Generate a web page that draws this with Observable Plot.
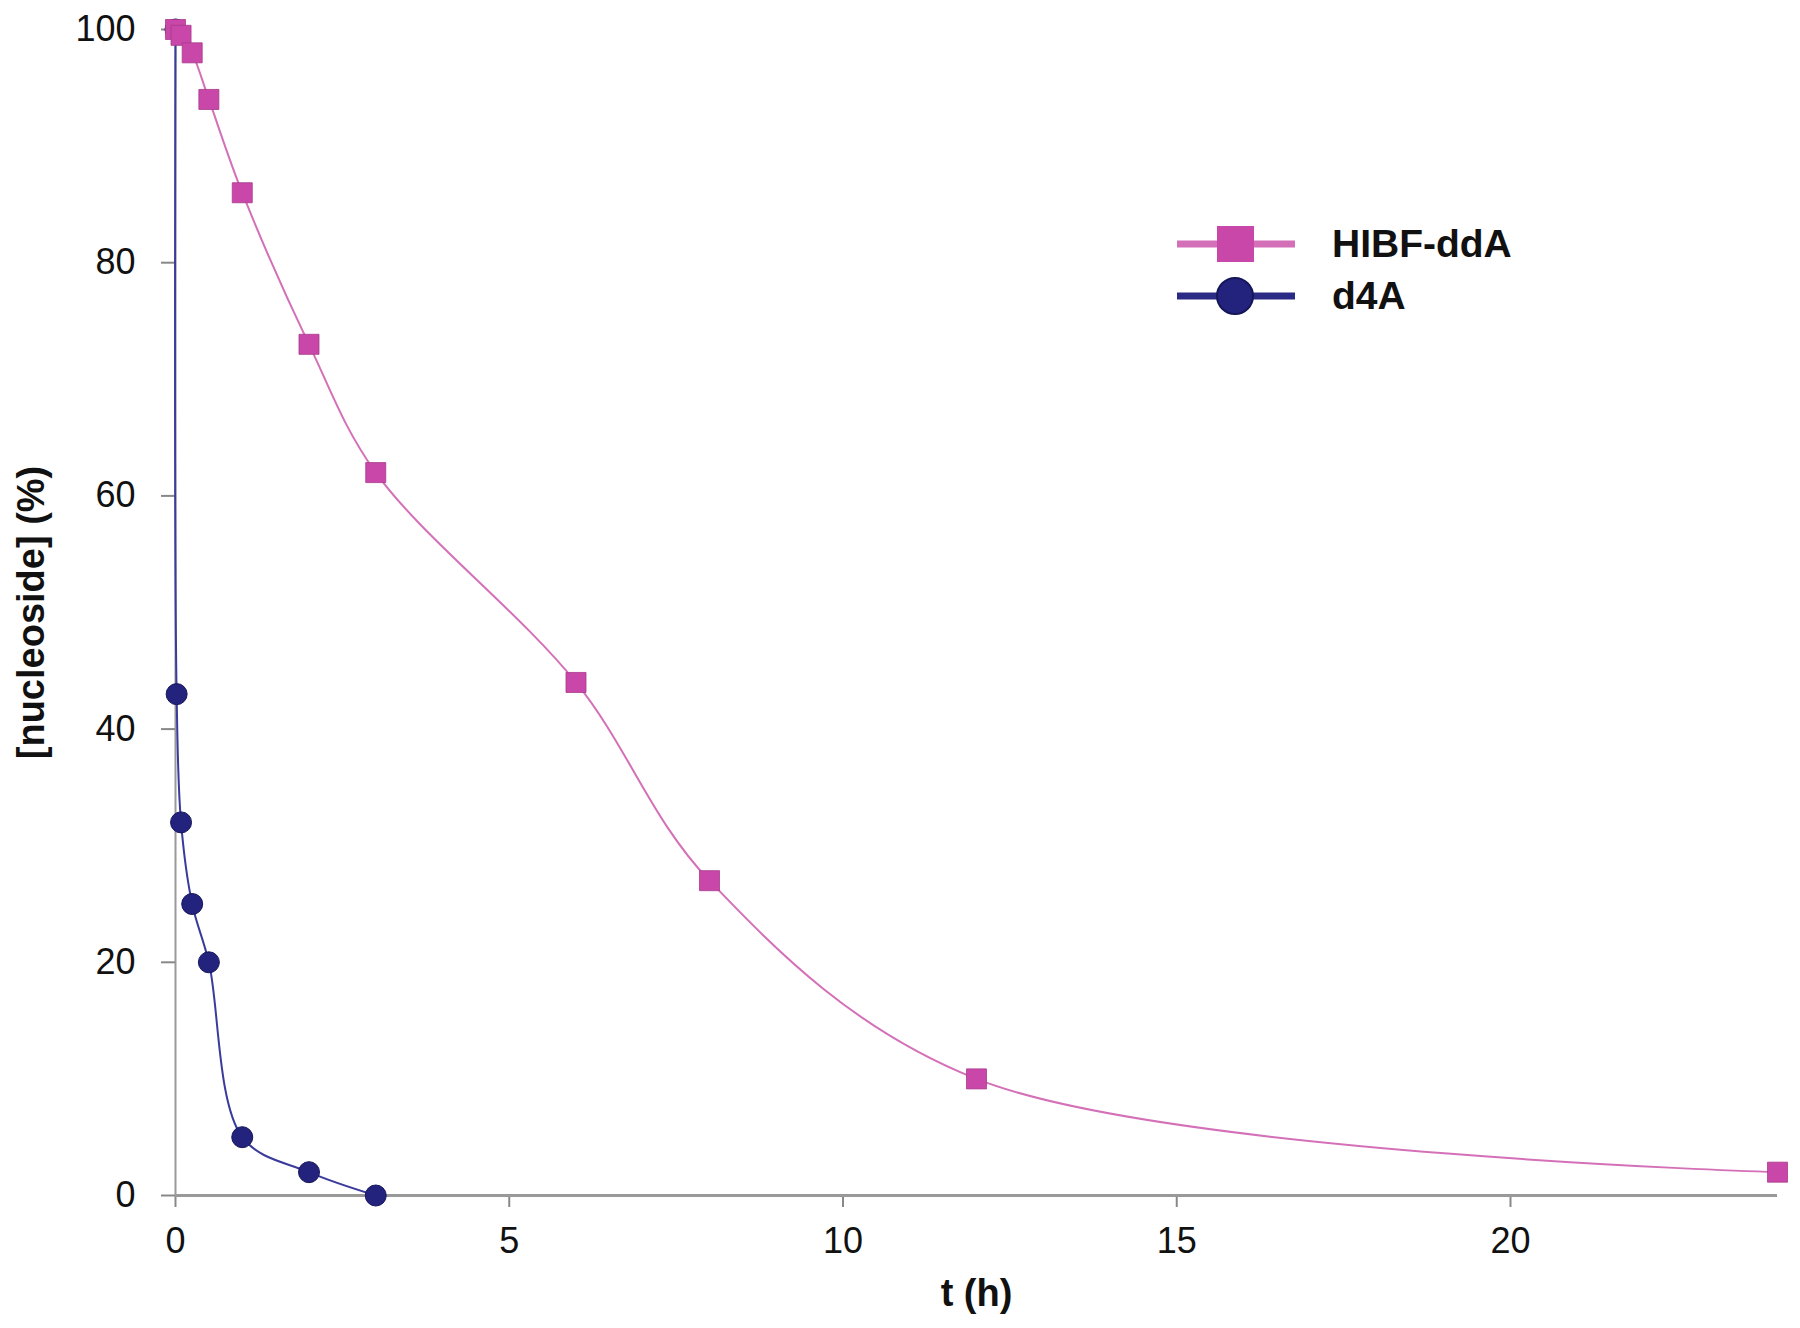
<!DOCTYPE html>
<html>
<head>
<meta charset="utf-8">
<script src="https://cdn.jsdelivr.net/npm/d3@7"></script>
<script src="https://cdn.jsdelivr.net/npm/@observablehq/plot@0.6"></script>
<style>
  html, body { margin: 0; padding: 0; background: #fff; }
  #wrap { position: relative; width: 1800px; height: 1328px; font-family: "Liberation Sans", Arial, sans-serif; }
  #legend { position: absolute; left: 1170px; top: 218px; }
  .lg-row { display: flex; align-items: center; height: 52px; }
  .lg-row span { font-weight: bold; font-size: 39px; color: #111; margin-left: 32px; }
</style>
</head>
<body>
<div id="wrap"></div>
<script>
// Data
const hibfName = "HIBF-ddA";
const hibfT = [0, 0.083, 0.25, 0.5, 1, 2, 3, 6, 8, 12, 24];
const hibfV = [100, 99.5, 98, 94, 86, 73, 62, 44, 27, 10, 2];

const d4aName = "d4A";
const d4aT = [0, 0.017, 0.083, 0.25, 0.5, 1, 2, 3];
const d4aV = [100, 43, 32, 25, 20, 5, 2, 0];

const xTicks = [0, 5, 10, 15, 20];
const yTicks = [0, 20, 40, 60, 80, 100];
const xTitle = "t (h)";
const yTitle = "[nucleoside] (%)";

const pinkLine = "#d470b8";
const pinkFill = "#c947a8";
const navyLine = "#3b3b9c";
const navyFill = "#23237e";

const hibf = hibfT.map((t, i) => ({t, v: hibfV[i]}));
const d4a = d4aT.map((t, i) => ({t, v: d4aV[i]}));

const chart = Plot.plot({
  width: 1800,
  height: 1328,
  marginLeft: 175,
  marginRight: 23,
  marginTop: 29,
  marginBottom: 133,
  style: {fontFamily: "'Liberation Sans', Arial, sans-serif", background: "#fff"},
  x: {domain: [0, 24]},
  y: {domain: [0, 100]},
  marks: [
    Plot.ruleX([0], {stroke: "#999", strokeWidth: 2}),
    Plot.axisY(yTicks, {tickSize: 14, tickPadding: 26, fontSize: 36, stroke: "#888", strokeWidth: 2, fill: "#111", label: null}),
    Plot.axisX(xTicks, {tickSize: 12, tickPadding: 20, fontSize: 36, stroke: "#888", strokeWidth: 2, fill: "#111", label: null}),
    Plot.ruleY([0], {stroke: "#999", strokeWidth: 3}),
    Plot.line(d4a, {x: "t", y: "v", stroke: navyLine, strokeWidth: 2, curve: "catmull-rom"}),
    Plot.dot(d4a, {x: "t", y: "v", r: 10.5, fill: navyFill, stroke: "#15155a", strokeWidth: 1, symbol: "circle"}),
    Plot.line(hibf, {x: "t", y: "v", stroke: pinkLine, strokeWidth: 2, curve: "catmull-rom"}),
    Plot.dot(hibf, {x: "t", y: "v", r: 11.3, fill: pinkFill, stroke: "#a83a8c", strokeWidth: 0.8, symbol: "square"}),
    Plot.text([xTitle], {frameAnchor: "bottom", textAnchor: "middle", dy: 110, fontSize: 38, fontWeight: "bold", fill: "#111"}),
    Plot.text([yTitle], {frameAnchor: "left", textAnchor: "middle", dx: -144, rotate: -90, fontSize: 38, fontWeight: "bold", fill: "#111"})
  ]
});

const wrap = document.getElementById("wrap");
wrap.appendChild(chart);

const legend = document.createElement("div");
legend.id = "legend";
legend.innerHTML = `
  <div class="lg-row">
    <svg width="130" height="52"><line x1="7" x2="125" y1="26" y2="26" stroke="${pinkLine}" stroke-width="7"/><rect x="47" y="8" width="37" height="36" fill="${pinkFill}"/></svg>
    <span>${hibfName}</span>
  </div>
  <div class="lg-row">
    <svg width="130" height="52"><line x1="7" x2="125" y1="26" y2="26" stroke="#2b2b85" stroke-width="7"/><circle cx="65" cy="26" r="18" fill="${navyFill}" stroke="#15155a" stroke-width="2"/></svg>
    <span>${d4aName}</span>
  </div>`;
wrap.appendChild(legend);
</script>
</body>
</html>
